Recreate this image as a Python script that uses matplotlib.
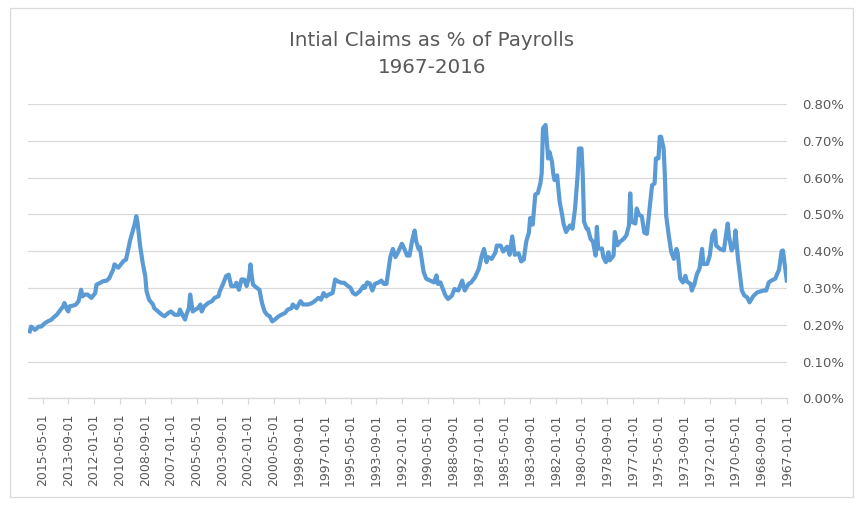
import matplotlib
matplotlib.use("Agg")
import matplotlib.pyplot as plt
from matplotlib.patches import Rectangle
from matplotlib.ticker import FuncFormatter

# initial jobless claims as a share of payrolls
# months counted from Jan 1967 (category axis, one slot per month)
months = [
    0, 3, 4, 6, 9, 12, 14, 16, 18, 21, 23, 26, 29, 31, 33, 35, 37, 38, 40, 41,
    43, 45, 46, 47, 49, 52, 55, 56, 58, 60, 62, 65, 66, 68, 70, 72, 74, 75, 78, 79,
    81, 83, 85, 86, 88, 90, 92, 94, 95, 96, 98, 99, 100, 102, 103, 105, 108, 109, 111, 113,
    115, 117, 118, 121, 122, 123, 125, 127, 130, 132, 134, 135, 138, 139, 141, 143, 144, 147, 148, 149,
    151, 153, 155, 156, 158, 159, 160, 162, 163, 165, 167, 169, 172, 174, 175, 177, 178, 179, 181, 182,
    183, 185, 186, 187, 188, 190, 191, 192, 194, 196, 198, 200, 201, 203, 205, 207, 209, 212, 214, 216,
    218, 221, 223, 226, 227, 230, 233, 234, 236, 238, 240, 243, 246, 248, 251, 253, 256, 259, 261, 264,
    266, 268, 270, 272, 273, 275, 278, 281, 283, 286, 287, 289, 290, 292, 294, 296, 298, 300, 303, 305,
    307, 309, 312, 314, 316, 318, 321, 323, 325, 327, 329, 330, 333, 336, 338, 340, 342, 345, 347, 350,
    352, 354, 357, 359, 361, 363, 365, 368, 370, 373, 376, 377, 379, 382, 385, 386, 389, 391, 394, 396,
    399, 401, 403, 405, 407, 409, 411, 413, 416, 417, 418, 419, 421, 423, 425, 427, 429, 430, 433, 435,
    437, 439, 442, 443, 446, 448, 451, 454, 456, 457, 459, 461, 463, 465, 466, 468, 469, 471, 473, 474,
    477, 480, 482, 485, 487, 490, 493, 494, 497, 499, 500, 502, 504, 506, 507, 508, 509, 512, 513, 515,
    517, 519, 521, 524, 525, 528, 530, 533, 535, 538, 539, 542, 545, 547, 549, 550, 552, 554, 556, 559,
    560, 561, 563, 564, 567, 569, 572, 573, 576, 578, 581, 583, 586, 589, 590,
]
claims_pct = [
    0.320, 0.402, 0.400, 0.350, 0.325, 0.320, 0.315, 0.293, 0.293, 0.290, 0.288, 0.278, 0.261, 0.275, 0.279, 0.293, 0.352, 0.379, 0.456, 0.415,
    0.402, 0.440, 0.475, 0.452, 0.402, 0.406, 0.415, 0.456, 0.443, 0.388, 0.365, 0.365, 0.406, 0.352, 0.338, 0.310, 0.293, 0.311, 0.318, 0.333,
    0.315, 0.325, 0.395, 0.406, 0.379, 0.397, 0.443, 0.497, 0.606, 0.680, 0.711, 0.711, 0.652, 0.652, 0.584, 0.579, 0.480, 0.447, 0.450, 0.495,
    0.498, 0.516, 0.475, 0.480, 0.557, 0.470, 0.443, 0.434, 0.425, 0.416, 0.452, 0.388, 0.375, 0.397, 0.370, 0.384, 0.407, 0.407, 0.466, 0.388,
    0.425, 0.434, 0.461, 0.461, 0.480, 0.607, 0.679, 0.679, 0.607, 0.516, 0.461, 0.470, 0.452, 0.475, 0.497, 0.534, 0.570, 0.606, 0.593, 0.611,
    0.643, 0.670, 0.652, 0.697, 0.743, 0.734, 0.612, 0.585, 0.558, 0.554, 0.472, 0.490, 0.450, 0.427, 0.377, 0.372, 0.394, 0.390, 0.440, 0.390,
    0.412, 0.399, 0.415, 0.415, 0.397, 0.379, 0.384, 0.370, 0.406, 0.384, 0.352, 0.329, 0.315, 0.311, 0.293, 0.320, 0.293, 0.297, 0.279, 0.270,
    0.279, 0.297, 0.315, 0.311, 0.334, 0.315, 0.320, 0.325, 0.343, 0.411, 0.406, 0.429, 0.456, 0.429, 0.388, 0.388, 0.406, 0.420, 0.397, 0.384,
    0.406, 0.384, 0.311, 0.311, 0.320, 0.315, 0.311, 0.293, 0.312, 0.315, 0.300, 0.305, 0.290, 0.282, 0.286, 0.300, 0.305, 0.314, 0.314, 0.318,
    0.323, 0.286, 0.282, 0.277, 0.286, 0.268, 0.273, 0.264, 0.259, 0.255, 0.255, 0.255, 0.264, 0.245, 0.255, 0.245, 0.241, 0.232, 0.227, 0.223,
    0.214, 0.209, 0.223, 0.227, 0.236, 0.259, 0.295, 0.300, 0.309, 0.332, 0.364, 0.332, 0.305, 0.323, 0.323, 0.295, 0.314, 0.305, 0.305, 0.336,
    0.332, 0.314, 0.290, 0.277, 0.273, 0.264, 0.259, 0.250, 0.236, 0.255, 0.245, 0.241, 0.236, 0.282, 0.245, 0.227, 0.214, 0.227, 0.241, 0.227,
    0.227, 0.236, 0.232, 0.223, 0.227, 0.236, 0.245, 0.255, 0.268, 0.291, 0.332, 0.368, 0.414, 0.477, 0.495, 0.477, 0.464, 0.427, 0.409, 0.377,
    0.373, 0.364, 0.355, 0.364, 0.350, 0.327, 0.320, 0.318, 0.314, 0.309, 0.286, 0.273, 0.282, 0.282, 0.277, 0.295, 0.264, 0.255, 0.252, 0.250,
    0.236, 0.241, 0.259, 0.250, 0.236, 0.227, 0.218, 0.214, 0.209, 0.205, 0.195, 0.195, 0.186, 0.195, 0.182,
]
assert len(months) == len(claims_pct)

# every 20th month gets a label
tick_labels = [
    '1967-01-01', '1968-09-01', '1970-05-01', '1972-01-01', '1973-09-01',
    '1975-05-01', '1977-01-01', '1978-09-01', '1980-05-01', '1982-01-01',
    '1983-09-01', '1985-05-01', '1987-01-01', '1988-09-01', '1990-05-01',
    '1992-01-01', '1993-09-01', '1995-05-01', '1997-01-01', '1998-09-01',
    '2000-05-01', '2002-01-01', '2003-09-01', '2005-05-01', '2007-01-01',
    '2008-09-01', '2010-05-01', '2012-01-01', '2013-09-01', '2015-05-01',
]
y_ticks = [0.0, 0.1, 0.2, 0.3, 0.4, 0.5, 0.6, 0.7, 0.8]

grey_text = '#595959'
grid_grey = '#d9d9d9'

fig = plt.figure(figsize=(8.64, 5.07), dpi=100)
ax = fig.add_axes([0.0324, 0.2144, 0.8782, 0.5805])

ax.plot(months, claims_pct, color='#5b9bd5', linewidth=3, solid_joinstyle='round')

# chart is laid out right-to-left: 1967 on the right, value axis on the right
ax.set_xlim(591.4, 0)
ax.set_ylim(0, 0.8)
ax.yaxis.tick_right()
ax.set_yticks(y_ticks)
ax.yaxis.set_major_formatter(FuncFormatter(lambda v, p: '{:.2f}%'.format(v)))
ax.tick_params(axis='y', length=0, pad=11, labelsize=9.5, labelcolor=grey_text)

ax.set_xticks(range(0, 20 * len(tick_labels), 20))
ax.set_xticklabels(tick_labels, rotation=90)
ax.tick_params(axis='x', length=4, width=0.8, color=grid_grey, pad=7,
               labelsize=9, labelcolor=grey_text)

ax.grid(axis='y', color=grid_grey, linewidth=0.9)
ax.set_axisbelow(True)
for side in ['top', 'left', 'right']:
    ax.spines[side].set_visible(False)
ax.spines['bottom'].set_color(grid_grey)
ax.spines['bottom'].set_linewidth(0.9)

fig.text(0.5, 0.921, 'Intial Claims as % of Payrolls', ha='center', va='center',
         fontsize=14.3, color=grey_text)
fig.text(0.5, 0.866, '1967-2016', ha='center', va='center',
         fontsize=14.3, color=grey_text)

# thin frame around the whole chart
fig.patches.append(Rectangle((0.012, 0.02), 0.975, 0.965, transform=fig.transFigure,
                             fill=False, edgecolor=grid_grey, linewidth=0.9))

fig.savefig('out.png', dpi=100)
